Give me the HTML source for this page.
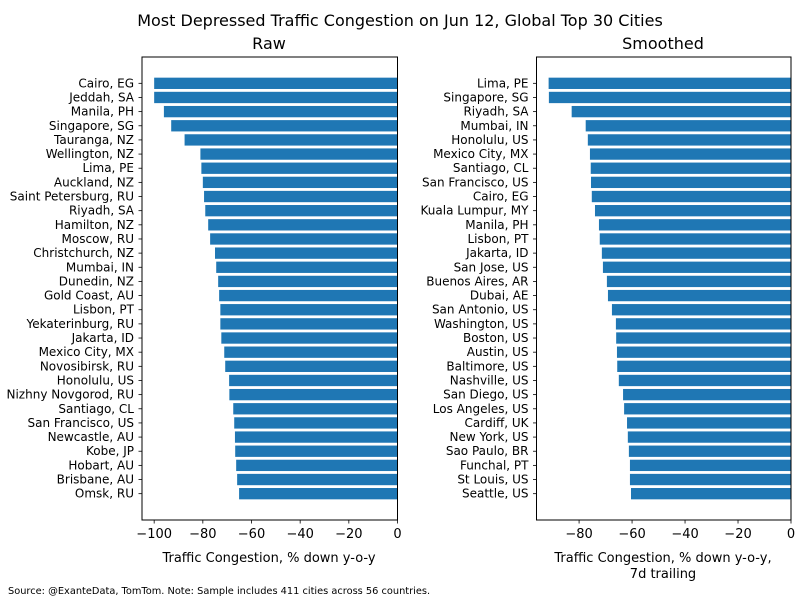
<!DOCTYPE html>
<html><head><meta charset="utf-8"><style>
body{margin:0;background:#fff;}
svg{font-family:"DejaVu Sans","Liberation Sans",sans-serif;}
</style></head><body>
<svg id="c" width="800" height="600" xmlns="http://www.w3.org/2000/svg">
<text x="400" y="26" text-anchor="middle" font-size="16">Most Depressed Traffic Congestion on Jun 12, Global Top 30 Cities</text>
<text x="269" y="49" text-anchor="middle" font-size="16">Raw</text>
<text x="663" y="49" text-anchor="middle" font-size="16">Smoothed</text>
<text x="269" y="562" text-anchor="middle" font-size="13">Traffic Congestion, % down y-o-y</text>
<text x="663" y="562" text-anchor="middle" font-size="13">Traffic Congestion, % down y-o-y,</text>
<text x="663" y="578" text-anchor="middle" font-size="13">7d trailing</text>
<text x="8" y="594" font-size="9.8">Source: @ExanteData, TomTom.   Note: Sample includes 411 cities across 56 countries.</text>
</svg>
<script>
const rawCities=["Cairo, EG","Jeddah, SA","Manila, PH","Singapore, SG","Tauranga, NZ","Wellington, NZ","Lima, PE","Auckland, NZ","Saint Petersburg, RU","Riyadh, SA","Hamilton, NZ","Moscow, RU","Christchurch, NZ","Mumbai, IN","Dunedin, NZ","Gold Coast, AU","Lisbon, PT","Yekaterinburg, RU","Jakarta, ID","Mexico City, MX","Novosibirsk, RU","Honolulu, US","Nizhny Novgorod, RU","Santiago, CL","San Francisco, US","Newcastle, AU","Kobe, JP","Hobart, AU","Brisbane, AU","Omsk, RU"];
const rawValues=[-100,-100,-96,-93,-87.5,-81,-80.6,-80,-79.5,-79,-77.8,-77,-75,-74.5,-73.7,-73.3,-72.8,-72.8,-72.4,-71.2,-70.8,-69.2,-69.1,-67.5,-67.1,-66.8,-66.7,-66.3,-65.9,-65.1];
const smCities=["Lima, PE","Singapore, SG","Riyadh, SA","Mumbai, IN","Honolulu, US","Mexico City, MX","Santiago, CL","San Francisco, US","Cairo, EG","Kuala Lumpur, MY","Manila, PH","Lisbon, PT","Jakarta, ID","San Jose, US","Buenos Aires, AR","Dubai, AE","San Antonio, US","Washington, US","Boston, US","Austin, US","Baltimore, US","Nashville, US","San Diego, US","Los Angeles, US","Cardiff, UK","New York, US","Sao Paulo, BR","Funchal, PT","St Louis, US","Seattle, US"];
const smValues=[-91.5,-91.4,-82.8,-77.5,-76.7,-75.9,-75.6,-75.5,-75.2,-74,-72.5,-72.2,-71.4,-71,-69.5,-69.1,-67.6,-66.1,-66,-65.7,-65.6,-65,-63.4,-63,-61.9,-61.6,-61.2,-60.8,-60.8,-60.4];
const rawTicks=[-100,-80,-60,-40,-20,0];
const smTicks=[-80,-60,-40,-20,0];
const NS="http://www.w3.org/2000/svg";
const svg=document.getElementById('c');
function mk(tag,attrs,parent){const e=document.createElementNS(NS,tag);for(const k in attrs)e.setAttribute(k,attrs[k]);(parent||svg).appendChild(e);return e;}
function panel(name,cities,vals,ticks,x0,x1){
  const top=57,bot=520;
  const minV=Math.min(...vals)*1.05;
  const xs=v=>x0+(v-minV)/(0-minV)*(x1-x0);
  const n=cities.length;
  const ys=i=>top+(i+1.86)*(bot-top)/(n-1+3.72);
  const step=(bot-top)/(n-1+3.72);
  const g=mk('g',{});
  
  
  cities.forEach((c,i)=>{
    const v=vals[i],y=ys(i);
    const r=mk('rect',{x:xs(v),y:y-step*0.4,width:xs(0)-xs(v),height:step*0.8,fill:'#1f77b4'},g);
    
    
    mk('line',{x1:x0-3.5,x2:x0,y1:y,y2:y,stroke:'#000','stroke-width':0.8},g);
    const t=mk('text',{x:x0-8,y:y+4,'text-anchor':'end','font-size':12},g);
    t.textContent=c;
    
    
  });
  ticks.forEach(v=>{
    const x=xs(v);
    mk('line',{x1:x,x2:x,y1:bot,y2:bot+3.5,stroke:'#000','stroke-width':0.8},g);
    const t=mk('text',{x:x,y:bot+18,'text-anchor':'middle','font-size':13},g);
    t.textContent=v<0?'\u2212'+(-v):String(v);
    
    
  });
  const f=mk('rect',{x:x0,y:top,width:x1-x0,height:bot-top,fill:'none',stroke:'#000','stroke-width':1},g);
  
  
}
panel('raw',rawCities,rawValues,rawTicks,142,397.5);
panel('smoothed',smCities,smValues,smTicks,536.5,791);
</script>
</body></html>
